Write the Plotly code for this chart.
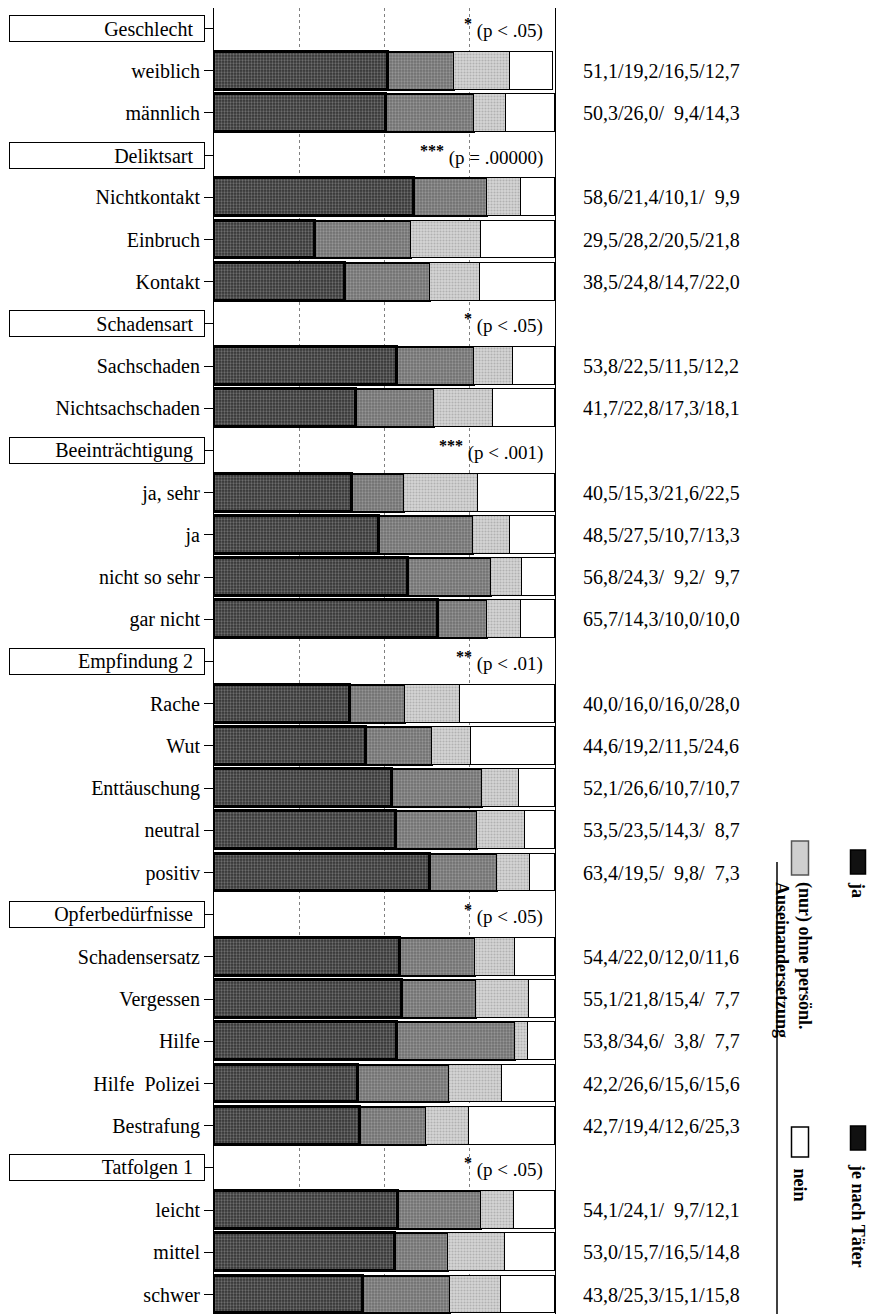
import plotly.graph_objects as go

# group headers with significance notes
group_names = ["Geschlecht", "Deliktsart", "Schadensart", "Beeinträchtigung",
               "Empfindung 2", "Opferbedürfnisse", "Tatfolgen 1"]
group_stars = ["*", "***", "*", "***", "**", "*", "*"]
group_p = ["(p < .05)", "(p = .00000)", "(p < .05)", "(p < .001)",
           "(p < .01)", "(p < .05)", "(p < .05)"]
group_sizes = [2, 3, 2, 4, 5, 5, 3]

categories = ["weiblich", "männlich",
              "Nichtkontakt", "Einbruch", "Kontakt",
              "Sachschaden", "Nichtsachschaden",
              "ja, sehr", "ja", "nicht so sehr", "gar nicht",
              "Rache", "Wut", "Enttäuschung", "neutral", "positiv",
              "Schadensersatz", "Vergessen", "Hilfe", "Hilfe  Polizei", "Bestrafung",
              "leicht", "mittel", "schwer"]

# percentages: ja / je nach Täter / (nur) ohne persönl. Auseinandersetzung / nein
ja = [51.1, 50.3, 58.6, 29.5, 38.5, 53.8, 41.7, 40.5, 48.5, 56.8, 65.7,
      40.0, 44.6, 52.1, 53.5, 63.4, 54.4, 55.1, 53.8, 42.2, 42.7, 54.1, 53.0, 43.8]
je_nach = [19.2, 26.0, 21.4, 28.2, 24.8, 22.5, 22.8, 15.3, 27.5, 24.3, 14.3,
           16.0, 19.2, 26.6, 23.5, 19.5, 22.0, 21.8, 34.6, 26.6, 19.4, 24.1, 15.7, 25.3]
ohne = [16.5, 9.4, 10.1, 20.5, 14.7, 11.5, 17.3, 21.6, 10.7, 9.2, 10.0,
        16.0, 11.5, 10.7, 14.3, 9.8, 12.0, 15.4, 3.8, 15.6, 12.6, 9.7, 16.5, 15.1]
nein = [12.7, 14.3, 9.9, 21.8, 22.0, 12.2, 18.1, 22.5, 13.3, 9.7, 10.0,
        28.0, 24.6, 10.7, 8.7, 7.3, 11.6, 7.7, 7.7, 15.6, 25.3, 12.1, 14.8, 15.8]

# row positions (header rows interleaved)
head_pos, cat_pos = [], []
row = 0
for n in group_sizes:
    head_pos.append(row)
    row += 1
    cat_pos.extend(range(row, row + n))
    row += n
n_rows = row

ticktext = [""] * n_rows
for p, c in zip(cat_pos, categories):
    ticktext[p] = c

SERIF = "Liberation Serif"
# the page body adds an 8px margin, so the figure is a bit smaller than the window
OFF = 8
W, H = 877 - OFF, 1314 - OFF
L, R, T, B = 214 - OFF, 877 - 555, 0, 0
PW = W - L - R
PH = H - T - B
ROW_PX = 42.2
first_row_y = 28.5 - OFF  # centre of first row, figure pixels


def px_x(x):
    # page pixel -> paper
    return (x - OFF - L) / PW


def px_y(y):
    return 1 - (y - OFF - T) / PH


fig = go.Figure()
styles = [
    ("ja", ja, "#333333", "#a8a8a8", 3.5, 0.45),
    ("je nach Täter", je_nach, "#6e6e6e", "#bcbcbc", 2, 0.45),
    ("ohne", ohne, "#d6d6d6", "#8c8c8c", 1, 0.4),
    ("nein", nein, "white", None, 1, 0),
]
for name, vals, bg, fg, lw, sol in styles:
    marker = dict(color=bg, line=dict(color="black", width=lw))
    if fg:
        marker["pattern"] = dict(shape=".", fgcolor=fg, size=3, solidity=sol, fillmode="overlay")
    fig.add_trace(go.Bar(y=cat_pos, x=vals, orientation="h", name=name,
                         marker=marker, width=0.9, showlegend=False))

# header boxes and p-values
for pos, name, stars, p in zip(head_pos, group_names, group_stars, group_p):
    fig.add_annotation(x=px_x(205), xref="paper", y=pos, yref="y",
                       text=name + "\u00a0\u00a0", height=23,
                       xanchor="right", align="right", width=192, showarrow=False,
                       bordercolor="black", borderwidth=1, borderpad=1, bgcolor="white",
                       font=dict(family=SERIF, size=20, color="black"))
    fig.add_annotation(x=px_x(545), xref="paper", y=pos, yref="y",
                       text=f"<sup><span style='font-size:16px'><b>{stars}</b></span></sup> {p}",
                       xanchor="right", showarrow=False,
                       font=dict(family=SERIF, size=19, color="black"))

# value labels on the right
def fmt(v):
    s = f"{v:4.1f}".replace(".", ",")
    return s.replace(" ", "\u00a0\u00a0")


for pos, a, b, c, d in zip(cat_pos, ja, je_nach, ohne, nein):
    fig.add_annotation(x=px_x(581), xref="paper", y=pos, yref="y",
                       text="/".join(fmt(v) for v in (a, b, c, d)),
                       xanchor="left", showarrow=False,
                       font=dict(family=SERIF, size=20, color="black"))

# rotated legend (positions in page pixels)
legend_font = dict(family=SERIF, size=18, color="black")
fig.add_shape(type="line", xref="paper", yref="paper",
              x0=px_x(777), x1=px_x(777), y0=px_y(862), y1=px_y(1314),
              line=dict(color="black", width=1.5))
swatches = [
    (858, 862, 15, 24, "#111111", "black"),
    (800, 858, 17, 34, "#cfcfcf", "#555555"),
    (858, 1138, 15, 24, "#111111", "black"),
    (800, 1142, 17, 30, "white", "black"),
]
for cx, cy, w, h, fill, lc in swatches:
    fig.add_shape(type="rect", xref="paper", yref="paper",
                  x0=px_x(cx - w / 2), x1=px_x(cx + w / 2),
                  y0=px_y(cy - h / 2), y1=px_y(cy + h / 2),
                  fillcolor=fill, line=dict(color=lc, width=1.5))
legend_texts = [
    (858, 880, "<b>ja</b>"),
    (794, 880, "<b>(nur) ohne persönl.<br>Auseinandersetzung</b>"),
    (858, 1162, "<b>je nach Täter</b>"),
    (800, 1166, "<b>nein</b>"),
]
for cx, top, txt in legend_texts:
    fig.add_annotation(x=px_x(cx), xref="paper", y=px_y(top), yref="paper", text=txt,
                       textangle=90, xanchor="center", yanchor="top", align="left",
                       showarrow=False, font=legend_font)

fig.update_layout(
    width=W, height=H, barmode="stack",
    margin=dict(l=L, r=R, t=T, b=B, autoexpand=False),
    paper_bgcolor="white", plot_bgcolor="white",
    bargap=0,
)
fig.update_xaxes(range=[0, 100], tickvals=[25, 50, 75], showticklabels=False,
                 showgrid=True, gridcolor="#808080", griddash="dot", gridwidth=1,
                 showline=True, mirror=True, linecolor="black", linewidth=1,
                 zeroline=False, ticks="", automargin=False)
y_top = -first_row_y / ROW_PX
y_bottom = y_top + PH / ROW_PX
fig.update_yaxes(range=[y_bottom, y_top], tickvals=list(range(n_rows)), ticktext=ticktext,
                 ticks="outside", ticklen=9, tickcolor="black", tickwidth=1,
                 showline=True, mirror=True, linecolor="black", linewidth=1,
                 showgrid=False, zeroline=False, automargin=False,
                 tickfont=dict(family=SERIF, size=20, color="black"))

fig.write_html("out.html")
